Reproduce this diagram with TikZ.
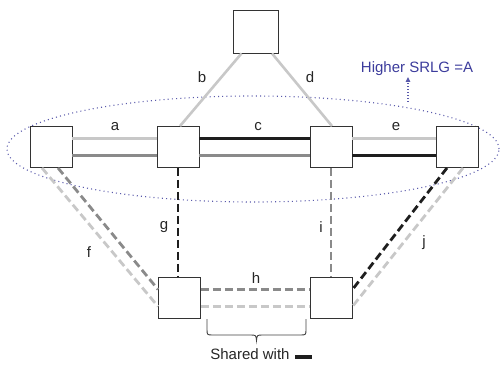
\documentclass[tikz,border=0pt]{standalone}
\usepackage{fontspec}
\setmainfont{Liberation Sans}
\usetikzlibrary{arrows.meta,shapes.geometric}
\definecolor{lite}{HTML}{C8C8C8}
\definecolor{mid}{HTML}{8A8A8A}
\definecolor{dark}{HTML}{1E1E1E}
\definecolor{srlgblue}{HTML}{3C3C9C}
\begin{document}
\begin{tikzpicture}[x=1pt,y=1pt,
  box/.style={draw=black!80, line width=0.9pt, fill=white, minimum width=42pt, minimum height=41pt, inner sep=0pt},
  lnk/.style={line width=2.6pt},
  dlnk/.style={line width=2.8pt, dash pattern=on 8pt off 4pt},
  lbl/.style={font=\fontsize{15}{18}\selectfont, text=black!85, inner sep=0pt},
]
\useasboundingbox (0,0) rectangle (500,364);

% SRLG group boundary
\node[ellipse, draw=srlgblue!85, line width=1.1pt, dash pattern=on 1pt off 3.2pt,
      minimum width=492pt, minimum height=106pt, inner sep=0pt] (srlg) at (253,215) {};

% routers
\node[box, minimum width=45pt, minimum height=43pt] (top) at (255.5,332.5) {};
\node[box] (A) at (51,217) {};
\node[box] (B) at (178,217) {};
\node[box] (C) at (331,217) {};
\node[box] (D) at (457,217) {};
\node[box] (E) at (179.5,66) {};
\node[box] (F) at (331,66) {};

% upper row links
\draw[lnk, lite] ([yshift=8.5pt]A.east) -- ([yshift=8.5pt]B.west);
\draw[lnk, mid]  ([yshift=-8.5pt]A.east) -- ([yshift=-8.5pt]B.west);
\draw[lnk, dark] ([yshift=8.5pt]B.east) -- ([yshift=8.5pt]C.west);
\draw[lnk, mid]  ([yshift=-8.5pt]B.east) -- ([yshift=-8.5pt]C.west);
\draw[lnk, lite] ([yshift=8.5pt]C.east) -- ([yshift=8.5pt]D.west);
\draw[lnk, dark] ([yshift=-8.5pt]C.east) -- ([yshift=-8.5pt]D.west);

% links to the top router
\draw[lnk, lite] ([xshift=-14pt]top.south) -- ([xshift=2pt]B.north);
\draw[lnk, lite] ([xshift=16.5pt]top.south) -- ([xshift=1pt]C.north);

% vertical links
\draw[dlnk, dark] (B.south) -- (B.south |- E.north);
\draw[dlnk, mid]  (C.south) -- (C.south |- F.north);

% diagonal links
\draw[dlnk, mid]  ([xshift=7pt]A.south) -- ([yshift=8.5pt]E.west);
\draw[dlnk, lite] ([xshift=-9pt]A.south) -- ([yshift=-8.5pt]E.west);
\draw[dlnk, dark] ([xshift=-10pt]D.south) -- ([yshift=8.5pt]F.east);
\draw[dlnk, lite] ([xshift=6pt]D.south) -- ([yshift=-8.5pt]F.east);

% bottom links
\draw[dlnk, mid]  ([yshift=8.5pt]E.east) -- ([yshift=8.5pt]F.west);
\draw[dlnk, lite] ([yshift=-8.5pt]E.east) -- ([yshift=-8.5pt]F.west);

% link labels
\node[lbl] (la) at (115,237.5) {a};
\node[lbl] (lb) at (202,287) {b};
\node[lbl] (lc) at (258,237.5) {c};
\node[lbl] (ld) at (310,287) {d};
\node[lbl] (le) at (396,237.5) {e};
\node[lbl] (lf) at (89,112) {f};
\node[lbl] (lg) at (164,137) {g};
\node[lbl] (lh) at (256,86) {h};
\node[lbl] (li) at (321,137) {i};
\node[lbl] (lj) at (424,121) {j};

% SRLG annotation
\node[lbl, text=srlgblue, anchor=base] (srlgtext) at (417,291.3) {Higher SRLG =A};
\coordinate (srlgfoot) at (408,262);
\draw[srlgblue!85, line width=1.1pt, dash pattern=on 1pt off 2pt,
      -{Triangle[length=5pt,width=4.5pt,sep=0pt]}] (srlgfoot) -- (408,287);

% shared-risk brace
\draw[black!75, line width=0.9pt]
  (207,45) -- (207,35) .. controls (207,29) .. (213,29) -- (250,29)
  .. controls (256,29) .. (256.5,23.5) .. controls (257,29) .. (263,29)
  -- (300,29) .. controls (306,29) .. (306,35) -- (306,45);
\node[lbl, anchor=base] (shared) at (250,4.5) {Shared with};
\fill[dark] (295,5) rectangle (312,9.3);
\end{tikzpicture}
\end{document}
